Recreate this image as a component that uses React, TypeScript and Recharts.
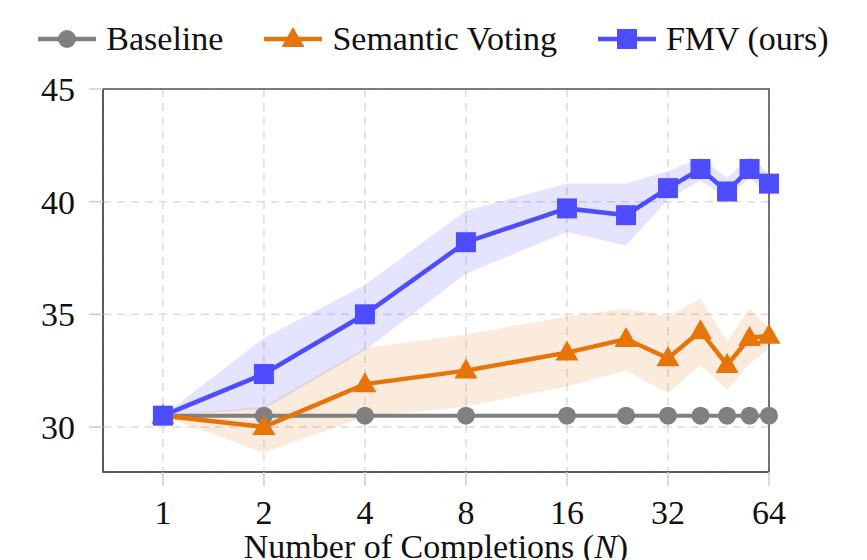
import React from 'react'
import {
  ComposedChart,
  Line,
  Area,
  XAxis,
  YAxis,
  CartesianGrid,
  ReferenceArea,
  Label
} from 'recharts'

const N_VALUES = [1, 2, 4, 8, 16, 24, 32, 40, 48, 56, 64]
const X_TICKS = [1, 2, 4, 8, 16, 32, 64]
const Y_TICKS = [30, 35, 40, 45]

const BASELINE = [30.5, 30.5, 30.5, 30.5, 30.5, 30.5, 30.5, 30.5, 30.5, 30.5, 30.5]
const SEMANTIC = [30.5, 30.0, 31.9, 32.5, 33.3, 33.9, 33.05, 34.25, 32.75, 33.95, 34.05]
const SEMANTIC_LOW = [30.5, 28.85, 30.45, 30.9, 31.8, 32.5, 31.5, 32.75, 31.65, 32.8, 33.5]
const SEMANTIC_HIGH = [30.5, 30.9, 33.5, 34.1, 34.9, 35.25, 34.9, 35.7, 33.8, 35.25, 34.4]
const FMV = [30.5, 32.35, 35.0, 38.2, 39.7, 39.4, 40.6, 41.45, 40.45, 41.45, 40.8]
const FMV_LOW = [30.5, 30.8, 33.4, 36.8, 38.65, 38.05, 40.1, 40.95, 40.15, 41.05, 40.3]
const FMV_HIGH = [30.5, 33.95, 36.3, 39.6, 40.8, 40.8, 41.35, 41.95, 41.05, 42.0, 41.25]

const GRAY = '#808080'
const ORANGE = '#e6740a'
const BLUE = '#4d4dff'
const FONT = "'Liberation Serif', 'DejaVu Serif', serif"

const data = N_VALUES.map((n, i) => ({
  n,
  baseline: BASELINE[i],
  semantic: SEMANTIC[i],
  semanticBand: [SEMANTIC_LOW[i], SEMANTIC_HIGH[i]],
  fmv: FMV[i],
  fmvBand: [FMV_LOW[i], FMV_HIGH[i]]
}))

type Marker = 'circle' | 'triangle' | 'square'

function markerShape(kind: Marker, cx: number, cy: number, color: string, key?: any) {
  if (kind === 'circle') return <circle key={key} cx={cx} cy={cy} r={9} fill={color} />
  if (kind === 'square')
    return <rect key={key} x={cx - 10} y={cy - 10} width={20} height={20} fill={color} />
  return (
    <polygon
      key={key}
      points={`${cx},${cy - 12} ${cx + 11.5},${cy + 8} ${cx - 11.5},${cy + 8}`}
      fill={color}
    />
  )
}

const makeDot = (kind: Marker, color: string) => (props: any) => {
  const { cx, cy, index } = props
  if (cx == null || cy == null) return <g key={index} />
  return markerShape(kind, cx, cy, color, index)
}

const SERIES: Array<{ name: string; color: string; marker: Marker }> = [
  { name: 'Baseline', color: GRAY, marker: 'circle' },
  { name: 'Semantic Voting', color: ORANGE, marker: 'triangle' },
  { name: 'FMV (ours)', color: BLUE, marker: 'square' }
]

function LegendBar() {
  return (
    <div
      style={{
        position: 'absolute',
        left: 0,
        top: 20,
        width: 867,
        display: 'flex',
        justifyContent: 'center',
        alignItems: 'center',
        fontFamily: FONT,
        fontSize: 34,
        color: '#111',
        gap: 41
      }}
    >
      {SERIES.map((s) => (
        <div key={s.name} style={{ display: 'flex', alignItems: 'center' }}>
          <svg width={58} height={26} style={{ marginRight: 10 }}>
            <line x1={0} y1={13} x2={58} y2={13} stroke={s.color} strokeWidth={4.5} />
            {markerShape(s.marker, 29, 13, s.color)}
          </svg>
          <span>{s.name}</span>
        </div>
      ))}
    </div>
  )
}

const tickStyle = { fontFamily: FONT, fontSize: 34, fill: '#111' }

export default function App() {
  return (
    <div style={{ position: 'absolute', left: 0, top: 0, width: 867, height: 560, fontFamily: FONT }}>
      <ComposedChart
        width={867}
        height={560}
        data={data}
        margin={{ top: 89, right: 98, bottom: 0, left: 43 }}
        style={{ fontFamily: FONT }}
      >
        <CartesianGrid stroke="#dcdcdc" strokeWidth={1.5} strokeDasharray="8 6" />
        <XAxis
          dataKey="n"
          type="number"
          scale="log"
          domain={[0.663, 64]}
          ticks={X_TICKS}
          height={88}
          tick={tickStyle}
          tickSize={14}
          tickMargin={14}
          tickLine={{ stroke: '#cccccc', strokeWidth: 1.5 }}
          axisLine={{ stroke: '#555', strokeWidth: 1.6 }}
          label={
            <Label
              content={(props: any) => {
                const { x, y, width } = props.viewBox
                return (
                  <text
                    x={x + width / 2}
                    y={y + 86}
                    textAnchor="middle"
                    style={{ fontFamily: FONT, fontSize: 34 }}
                    fill="#111"
                  >
                    Number of Completions (<tspan fontStyle="italic">N</tspan>)
                  </text>
                )
              }}
            />
          }
        />
        <YAxis
          type="number"
          domain={[28, 45]}
          ticks={Y_TICKS}
          width={60}
          tick={tickStyle}
          tickSize={14}
          tickMargin={14}
          tickLine={{ stroke: '#cccccc', strokeWidth: 1.5 }}
          axisLine={{ stroke: '#555', strokeWidth: 1.6 }}
        />
        <Area
          type="linear"
          dataKey="semanticBand"
          stroke="none"
          fill={ORANGE}
          fillOpacity={0.14}
          dot={false}
          activeDot={false}
          isAnimationActive={false}
        />
        <Area
          type="linear"
          dataKey="fmvBand"
          stroke="none"
          fill={BLUE}
          fillOpacity={0.15}
          dot={false}
          activeDot={false}
          isAnimationActive={false}
        />
        <ReferenceArea
          x1={0.663}
          x2={64}
          y1={28}
          y2={45}
          fill="none"
          stroke="#555"
          strokeWidth={1.6}
        />
        <Line
          type="linear"
          dataKey="baseline"
          stroke={GRAY}
          strokeWidth={4}
          dot={makeDot('circle', GRAY)}
          activeDot={false}
          isAnimationActive={false}
        />
        <Line
          type="linear"
          dataKey="semantic"
          stroke={ORANGE}
          strokeWidth={4.5}
          dot={makeDot('triangle', ORANGE)}
          activeDot={false}
          isAnimationActive={false}
        />
        <Line
          type="linear"
          dataKey="fmv"
          stroke={BLUE}
          strokeWidth={4.5}
          dot={makeDot('square', BLUE)}
          activeDot={false}
          isAnimationActive={false}
        />
      </ComposedChart>
      <LegendBar />
    </div>
  )
}
